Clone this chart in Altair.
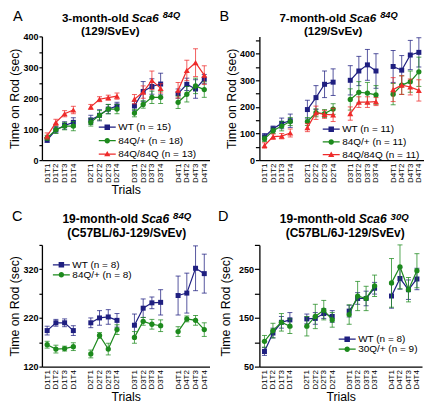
import altair as alt
import pandas as pd

FONT = "Liberation Sans"
NAVY = "#1f1f80"
GREEN = "#1d8a1d"
RED = "#ee2b2b"

# ---------------- data ----------------
trial_labels = [f"D{d}T{t}" for d in range(1, 5) for t in range(1, 5)]
day_labels = [f"D{d}" for d in range(1, 5) for t in range(1, 5)]
x_domain = (trial_labels[0:4] + ["gap1"] + trial_labels[4:8] + ["gap2"]
            + trial_labels[8:12] + ["gap3"] + trial_labels[12:16])

# Panel A: 3-month-old Sca6 84Q (129/SvEv)
a_wt = [65, 98, 112, 122, 130, 145, 165, 175, 175, 222, 238, 246, 215, 245, 230, 262]
a_wt_err = [8, 10, 12, 15, 15, 18, 15, 12, 15, 32, 25, 35, 15, 20, 30, 15]
a_het = [72, 98, 110, 110, 122, 145, 165, 165, 152, 180, 203, 203, 187, 213, 240, 228]
a_het_err = [8, 12, 12, 15, 12, 15, 15, 15, 12, 12, 20, 20, 20, 25, 25, 25]
a_hom = [78, 122, 150, 162, 172, 197, 202, 207, 197, 220, 258, 232, 226, 290, 315, 275]
a_hom_err = [10, 10, 10, 12, 8, 8, 8, 10, 15, 20, 30, 15, 25, 33, 45, 30]

# Panel B: 7-month-old Sca6 84Q (129/SvEv)
b_wt = [88, 118, 138, 148, 190, 235, 285, 293, 300, 335, 358, 335, 352, 338, 395, 405]
b_wt_err = [12, 10, 20, 25, 35, 45, 50, 50, 55, 55, 58, 65, 60, 55, 55, 55]
b_het = [80, 110, 128, 145, 145, 178, 175, 192, 228, 255, 252, 245, 248, 282, 295, 332]
b_het_err = [10, 10, 18, 15, 15, 15, 15, 20, 40, 40, 40, 35, 40, 35, 40, 55]
b_hom = [55, 88, 90, 102, 122, 178, 172, 170, 175, 218, 218, 220, 265, 282, 275, 262]
b_hom_err = [10, 10, 10, 15, 15, 25, 15, 25, 25, 20, 20, 15, 45, 35, 30, 40]

# Panel C: 19-month-old Sca6 84Q (C57BL/6J-129/SvEv)
c_wt = [194, 210, 210, 194, 210, 220, 222, 215, 205, 240, 251, 252, 266, 271, 322, 311]
c_wt_err = [9, 7, 8, 10, 10, 15, 15, 14, 23, 19, 12, 26, 40, 41, 46, 40]
c_het = [165, 156, 157, 161, 146, 184, 156, 196, 180, 213, 207, 204, 192, 218, 215, 196]
c_het_err = [7, 8, 5, 8, 8, 6, 12, 10, 12, 8, 10, 12, 10, 6, 10, 14]

# Panel D: 19-month-old Sca6 30Q (C57BL/6J-129/SvEv)
d_wt = [81, 119, 141, 146, 148, 149, 159, 153, 164, 190, 190, 211, 195, 231, 208, 230]
d_wt_err = [8, 10, 12, 15, 10, 12, 10, 12, 12, 12, 15, 12, 25, 22, 20, 22]
d_het = [102, 124, 141, 133, 133, 153, 166, 146, 157, 195, 190, 216, 222, 255, 208, 247]
d_het_err = [12, 15, 18, 15, 20, 25, 20, 15, 20, 30, 25, 22, 50, 45, 25, 35]

# legend-symbol paths: marker with a line through it (unit = sqrt(size)/2 px)
SQ_PATH = "M-1.7,-0.13H1.7V0.13H-1.7Z M-0.55,-0.55H0.55V0.55H-0.55Z"
CI_PATH = ("M-1.7,-0.13H1.7V0.13H-1.7Z M-0.55,0A0.55,0.55 0 1,1 0.55,0"
           "A0.55,0.55 0 1,1 -0.55,0Z")
TR_PATH = "M-1.7,-0.13H1.7V0.13H-1.7Z M0,-0.65L0.62,0.45H-0.62Z"

SHAPES = {"square": (SQ_PATH, 25), "circle": (CI_PATH, 28), "triangle-up": (TR_PATH, 36)}

dummy = pd.DataFrame({"k": [0]})


def txt(text, x, y, size, weight="normal", style="normal", align="left"):
    return alt.Chart(dummy).mark_text(
        text=text, align=align, baseline="alphabetic", font=FONT,
        fontSize=size, fontWeight=weight, fontStyle=style, color="black"
    ).encode(x=alt.value(x), y=alt.value(y))


def panel(series, y_dom, width, height, tick_size, title_pad, show_xtitle,
          legend_x, legend_y, row_pad, texts):
    lo_d, hi_d = y_dom
    yvals = list(range(lo_d, hi_d + 1, 50))
    x_enc = alt.X(
        "trial:N",
        scale=alt.Scale(type="point", domain=x_domain, padding=0.6),
        axis=alt.Axis(values=trial_labels, labelAngle=270, labelFontSize=8,
                      labelFont=FONT, labelColor="black", ticks=False,
                      domainColor="black", domainWidth=1.3, labelPadding=3,
                      title="Trials" if show_xtitle else None,
                      titleFont=FONT, titleFontSize=12.3,
                      titleFontWeight="normal", titleColor="black",
                      titlePadding=1),
    )

    def y_enc(field):
        return alt.Y(
            f"{field}:Q",
            scale=alt.Scale(domain=[lo_d, hi_d], nice=False, zero=False),
            axis=alt.Axis(values=yvals,
                          labelExpr=f"(datum.value - {lo_d}) % 100 == 0 ? datum.label : ''",
                          tickSize=tick_size, tickColor="black", tickWidth=1.2,
                          domainColor="black", domainWidth=1.3, grid=False,
                          labelFont=FONT, labelFontSize=9, labelFontWeight="bold",
                          labelColor="black", labelPadding=1,
                          title="Time on Rod (sec)", titleFont=FONT,
                          titleFontSize=12.3, titleFontWeight="normal",
                          titleColor="black", titlePadding=title_pad),
        )

    layers = []
    for name, color, shape, mean, err in series:
        df = pd.DataFrame({
            "trial": trial_labels, "day": day_labels, "mean": mean,
            "lo": [m - e for m, e in zip(mean, err)],
            "hi": [m + e for m, e in zip(mean, err)],
        })
        base = alt.Chart(df)
        layers.append(base.mark_rule(color=color, opacity=0.75, strokeWidth=1).encode(
            x=x_enc, y=y_enc("lo"), y2="hi:Q"))
        for f in ("lo", "hi"):
            layers.append(base.mark_tick(color=color, opacity=0.75, orient="horizontal",
                                         size=5, thickness=1).encode(x=x_enc, y=y_enc(f)))
        layers.append(base.mark_line(color=color, strokeWidth=1.2).encode(
            x=x_enc, y=y_enc("mean"), detail="day:N"))
        layers.append(base.mark_point(color=color, filled=True, opacity=1,
                                      shape=shape, size=SHAPES[shape][1]).encode(
            x=x_enc, y=y_enc("mean")))

    names = [s[0] for s in series]
    colors = [s[1] for s in series]
    paths = [SHAPES[s[2]][0] for s in series]
    leg = alt.Legend(orient="none", legendX=legend_x, legendY=legend_y, title=None,
                     labelFont=FONT, labelFontSize=10, labelColor="black",
                     symbolSize=100, symbolStrokeWidth=0, labelOffset=6,
                     rowPadding=row_pad, padding=0, labelLimit=0)
    leg_df = pd.DataFrame({"series": names})
    layers.append(alt.Chart(leg_df).mark_point(filled=True, opacity=1, clip=True,
                                               size=100).encode(
        x=alt.value(-999), y=alt.value(-999),
        color=alt.Color("series:N", scale=alt.Scale(domain=names, range=colors), legend=leg),
        shape=alt.Shape("series:N", scale=alt.Scale(domain=names, range=paths), legend=leg),
    ))
    for t in texts:
        layers.append(txt(*t))
    return alt.layer(*layers).properties(width=width, height=height)


def title_texts(letter, lx, ly, first, right1, base1, gene_sup, second, c2, base2, size):
    sca_w = 2.335 * size
    return [
        (letter, lx, ly, 14.5),
        (first, right1, base1, size, "bold", "normal", "right"),
        ("Sca6", right1 + 3, base1, size, "bold", "italic", "left"),
        (gene_sup, right1 + 3 + sca_w + 4, base1 - 3.5, size * 0.8, "bold", "italic", "left"),
        (second, c2, base2, size, "bold", "normal", "center"),
    ]


pA = panel(
    [("WT (n = 15)", NAVY, "square", a_wt, a_wt_err),
     ("84Q/+ (n = 18)", GREEN, "circle", a_het, a_het_err),
     ("84Q/84Q (n = 13)", RED, "triangle-up", a_hom, a_hom_err)],
    (0, 400), 168, 124, 3, 1, True, 60.5, 86, 3.5,
    title_texts("A", -29, -15.5, "3-month-old", 87, -14.5, "84Q", "(129/SvEv)", 68.5, -1.5, 11.6),
)
pB = panel(
    [("WT (n = 11)", NAVY, "square", b_wt, b_wt_err),
     ("84Q/+  (n = 11)", GREEN, "circle", b_het, b_het_err),
     ("84Q/84Q (n = 11)", RED, "triangle-up", b_hom, b_hom_err)],
    (0, 465), 165, 124, 4, 1, False, 67, 88, 2.8,
    title_texts("B", -40, -15.5, "7-month-old", 87, -14.5, "84Q", "(129/SvEv)", 74, -1.5, 11.6),
)
pC = panel(
    [("WT (n = 8)", NAVY, "square", c_wt, c_wt_err),
     ("84Q/+  (n = 8)", GREEN, "circle", c_het, c_het_err)],
    (120, 370), 168, 122, 3, 1, True, 14.5, 15, 0,
    title_texts("C", -30, -24, "19-month-old", 96.5, -22, "84Q",
                "(C57BL/6J-129/SvEv)", 85, -8, 12),
)
pD = panel(
    [("WT (n = 8)", NAVY, "square", d_wt, d_wt_err),
     ("30Q/+ (n = 9)", GREEN, "circle", d_het, d_het_err)],
    (50, 300), 163, 122, 5, 6, True, 83, 89.5, 0,
    title_texts("D", -41.5, -24, "19-month-old", 96.5, -21.5, "30Q",
                "(C57BL/6J-129/SvEv)", 86, -7.5, 12),
)

chart = alt.concat(pA, pB, pC, pD, columns=2, bounds="flush",
                   spacing=alt.RowColnumber(row=85, column=50)).resolve_scale(
    x="independent", y="independent", color="independent", shape="independent"
).properties(padding=0).configure_view(stroke=None)

chart.save("out.html", embed_options={"renderer": "svg", "actions": False})
